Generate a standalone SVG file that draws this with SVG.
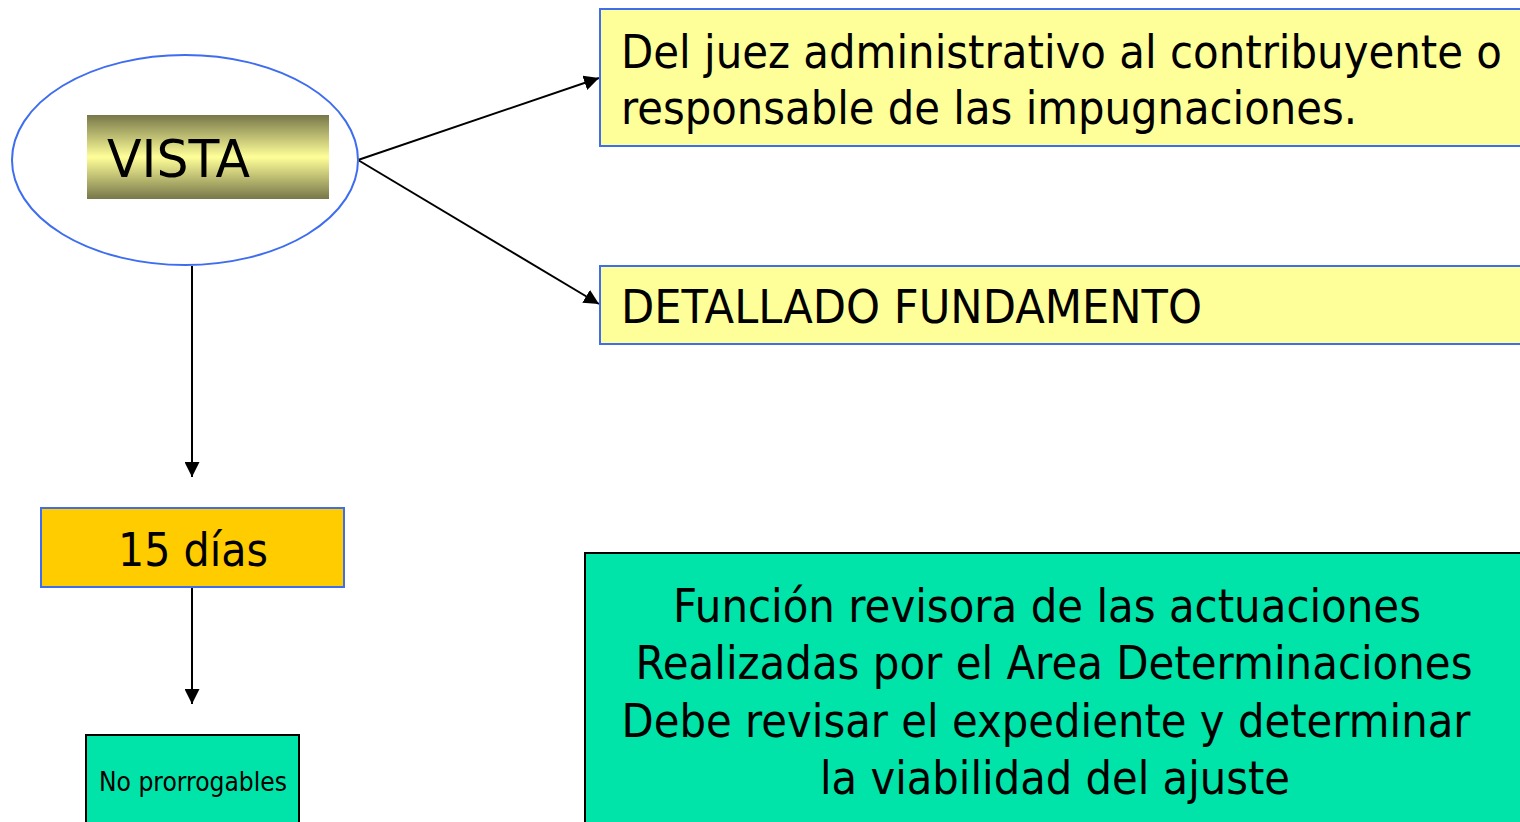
<svg xmlns="http://www.w3.org/2000/svg" width="1520" height="822" viewBox="0 0 1520 822">
<defs>
<linearGradient id="gold" x1="0" y1="0" x2="0" y2="1">
<stop offset="0" stop-color="#77774a"/>
<stop offset="0.5" stop-color="#ffff99"/>
<stop offset="1" stop-color="#77774a"/>
</linearGradient>
<marker id="arr" viewBox="0 0 10 10" refX="10" refY="5" markerWidth="15" markerHeight="15" markerUnits="userSpaceOnUse" orient="auto">
<path d="M0,0 L10,5 L0,10 z" fill="#000"/>
</marker>
</defs>
<style>
text{font-family:"DejaVu Sans","Liberation Sans",sans-serif;fill:#000}
.big{font-size:46px}
.blue{stroke:#3f6df0;stroke-width:2}
.blk{stroke:#000;stroke-width:2}
.conn{stroke:#000;stroke-width:2;fill:none;marker-end:url(#arr)}
</style>
<rect width="1520" height="822" fill="#fff"/>
<g id="connectors">
<line class="conn" x1="358" y1="160" x2="599" y2="78"/>
<line class="conn" x1="358" y1="160" x2="599" y2="304"/>
<line class="conn" x1="192" y1="266" x2="192" y2="477"/>
<line class="conn" x1="192" y1="584" x2="192" y2="704"/>
</g>
<g id="vista">
<ellipse cx="185" cy="160" rx="173" ry="105" fill="#fff" class="blue"/>
<rect x="87" y="115" width="242" height="84" fill="url(#gold)"/>
<text x="107" y="177" font-size="52" textLength="143" lengthAdjust="spacingAndGlyphs">VISTA</text>
</g>
<g id="juez">
<rect x="600" y="9" width="930" height="137" fill="#ffff99" class="blue"/>
<text class="big" x="621" y="68" textLength="881" lengthAdjust="spacingAndGlyphs">Del juez administrativo al contribuyente o</text>
<text class="big" x="621" y="124" textLength="736" lengthAdjust="spacingAndGlyphs">responsable de las impugnaciones.</text>
</g>
<g id="detallado">
<rect x="600" y="266" width="930" height="78" fill="#ffff99" class="blue"/>
<text class="big" x="621" y="323" textLength="581" lengthAdjust="spacingAndGlyphs">DETALLADO FUNDAMENTO</text>
</g>
<g id="dias">
<rect x="41" y="508" width="303" height="79" fill="#ffcc00" class="blue"/>
<text class="big" x="193" y="566" text-anchor="middle" textLength="150" lengthAdjust="spacingAndGlyphs">15 días</text>
</g>
<g id="noprorrogables">
<rect x="86" y="735" width="213" height="100" fill="#00e3a9" class="blk"/>
<text x="193" y="791" font-size="26" text-anchor="middle" textLength="188" lengthAdjust="spacingAndGlyphs">No prorrogables</text>
</g>
<g id="funcion">
<rect x="585" y="553" width="945" height="290" fill="#00e3a9" class="blk"/>
<text class="big" x="1047" y="622" text-anchor="middle" textLength="748" lengthAdjust="spacingAndGlyphs">Función revisora de las actuaciones</text>
<text class="big" x="1054" y="679" text-anchor="middle" textLength="837" lengthAdjust="spacingAndGlyphs">Realizadas por el Area Determinaciones</text>
<text class="big" x="1046" y="737" text-anchor="middle" textLength="849" lengthAdjust="spacingAndGlyphs">Debe revisar el expediente y determinar</text>
<text class="big" x="1055" y="794" text-anchor="middle" textLength="470" lengthAdjust="spacingAndGlyphs">la viabilidad del ajuste</text>
</g>
</svg>
